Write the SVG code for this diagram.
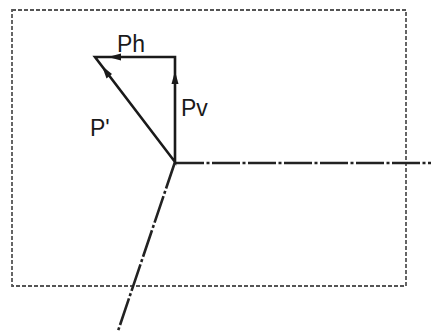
<svg xmlns="http://www.w3.org/2000/svg" width="431" height="331" viewBox="0 0 431 331">
<style>
.frame{fill:none;stroke:#555;stroke-width:1.8;stroke-dasharray:4 2}
.axis{fill:none;stroke:#222;stroke-width:2.6;stroke-dasharray:28 2.5 3 2.5}
.vec{fill:none;stroke:#1a1a1a;stroke-width:2.6}
.lbl{font-family:"Liberation Sans",Arial,sans-serif;font-size:23px;fill:#1a1a1a}
</style>
<rect id="frame" class="frame" x="12" y="10" width="394" height="276"/>
<g id="connectors">
<line class="axis" x1="176" y1="163" x2="431" y2="163"/>
<line class="axis" x1="175" y1="162" x2="118" y2="331"/>
<path class="vec" d="M175,162 L175,57 L95,57 Z"/>
<path d="M175,71 L178.5,84 L171.5,84 Z" fill="#1a1a1a"/>
<path d="M108,57 L121,53.5 L121,60.5 Z" fill="#1a1a1a"/>
<path d="M102,66 L112,74 L106.5,78.5 Z" fill="#1a1a1a"/>
</g>
<g id="labels">
<text class="lbl" x="117" y="52">Ph</text>
<text class="lbl" x="181" y="116">Pv</text>
<text class="lbl" x="90" y="136">P'</text>
</g>
</svg>
